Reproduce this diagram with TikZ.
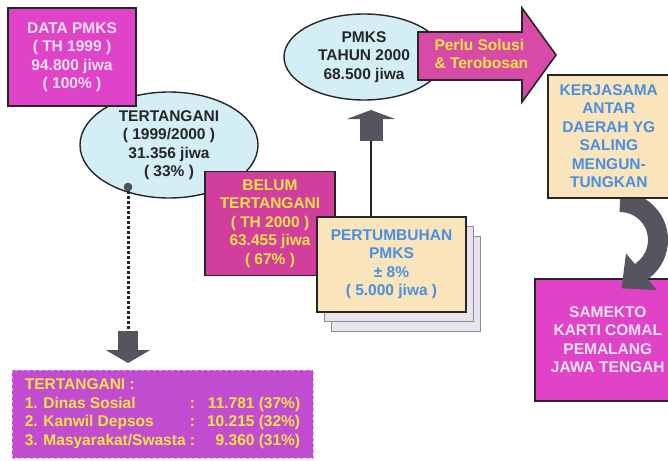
\documentclass[tikz,border=0pt]{standalone}
\usepackage{fontspec}
\setmainfont{Liberation Sans}
\usetikzlibrary{shapes.geometric,arrows.meta}
\definecolor{merahmuda}{HTML}{E042C8}
\definecolor{magentatua}{HTML}{D23E9E}
\definecolor{ungu}{HTML}{C24CCF}
\definecolor{ungumuda}{HTML}{E8A0EC}
\definecolor{pinkpanah}{HTML}{D84AA8}
\definecolor{putihmerah}{HTML}{FBE3F3}
\definecolor{kuning}{HTML}{F6E444}
\definecolor{langit}{HTML}{D4EEF6}
\definecolor{krem}{HTML}{FAE4BC}
\definecolor{biru}{HTML}{4A8FE0}
\definecolor{kertas}{HTML}{E8E4EE}
\definecolor{abu}{HTML}{55555F}

\begin{document}
\begin{tikzpicture}[x=1pt,y=-1pt,
  every node/.style={font=\fontsize{15.5}{18.5}\selectfont\bfseries, align=center},
  kotak/.style={draw=black!85, line width=1.6pt, inner sep=0pt},
  oval/.style={ellipse, draw=black!85, line width=1.4pt, fill=langit, text=black!85, inner sep=0pt},
  lembar/.style={draw=black!45, line width=1pt, fill=kertas, inner sep=0pt, minimum width=149, minimum height=95},
  blokpanah/.style={draw=abu, line cap=butt}]
\useasboundingbox (0,0) rectangle (668,460);
\fill[white] (0,0) rectangle (668,460);
\clip (0,0) rectangle (668,460);

\node[oval, minimum width=178, minimum height=106] (tertangani) at (169,145) {TERTANGANI\\( 1999/2000 )\\31.356 jiwa\\( 33\% )};
\node[kotak, fill=merahmuda, text=putihmerah, minimum width=128, minimum height=98] (datapmks) at (72,57) {DATA PMKS\\( TH 1999 )\\94.800 jiwa\\( 100\% )};
\node[circle, fill=abu, draw=black!70, line width=0.6pt, inner sep=0pt, minimum size=8] (pin) at (128,187) {};
\coordinate (turun) at (128,331);
\draw[black!85, line width=3pt, dash pattern=on 3pt off 2pt] (pin) -- (turun);
\draw[blokpanah, line width=20pt, -{Triangle[width=44pt,length=13pt]}] (turun) -- ++(0,32);
\node[fill=ungu, draw=ungumuda, dashed, line width=1pt, minimum width=301, minimum height=88, inner sep=0pt, text=kuning] (daftar) at (162.5,414) {%
  \begin{tabular}{@{}l@{ }l@{\hspace{12pt}}r@{}}
  \multicolumn{3}{@{}l@{}}{TERTANGANI :}\\
  1. Dinas Sosial & : & 11.781 (37\%)\\
  2. Kanwil Depsos & : & 10.215 (32\%)\\
  3. Masyarakat/Swasta & : & 9.360 (31\%)
  \end{tabular}};

\node[kotak, fill=magentatua, text=kuning, minimum width=130, minimum height=104] (belum) at (270,223.5) {BELUM\\TERTANGANI\\( TH 2000 )\\63.455 jiwa\\( 67\% )};
\node[lembar] (lapis3) at (405.5,283.5) {};
\node[lembar] (lapis2) at (398.5,273.5) {};
\node[kotak, fill=krem, text=biru, minimum width=149, minimum height=95] (pertumbuhan) at (391.5,264.5) {PERTUMBUHAN\\PMKS\\± 8\%\\( 5.000 jiwa )};
\coordinate (naik) at (371,141);
\draw[black!85, line width=1.6pt] (pertumbuhan.north -| naik) -- (naik);
\draw[blokpanah, line width=23pt, -{Triangle[width=48pt,length=9pt]}] (naik) -- ++(0,-31);

\node[oval, minimum width=160, minimum height=86] (pmks) at (364,57) {PMKS\\TAHUN 2000\\68.500 jiwa};
\filldraw[fill=pinkpanah, draw=black!85, line width=1.6pt] (418,32) -- (522,32) -- (522,8) -- (556,55) -- (522,102) -- (522,80) -- (418,80) -- cycle;
\node[anchor=west, align=left, text=kuning] (solusi) at (431,54) {Perlu Solusi\\\& Terobosan};

\node[kotak, fill=merahmuda, text=putihmerah, minimum width=146, minimum height=122, anchor=north west] (samekto) at (534,278) {SAMEKTO\\KARTI COMAL\\PEMALANG\\JAWA TENGAH};
\coordinate (lengkung) at (620,202);
\draw[blokpanah, line width=20pt, -{Triangle[width=46pt,length=26pt]}] (lengkung) arc[start angle=270, end angle=410, radius=38] -- ++(-23,19.3);
\node[kotak, fill=krem, text=biru, minimum width=122, minimum height=123, anchor=north west] (kerjasama) at (547,74) {KERJASAMA\\ANTAR\\DAERAH YG\\SALING\\MENGUN-\\TUNGKAN};
\end{tikzpicture}
\end{document}
